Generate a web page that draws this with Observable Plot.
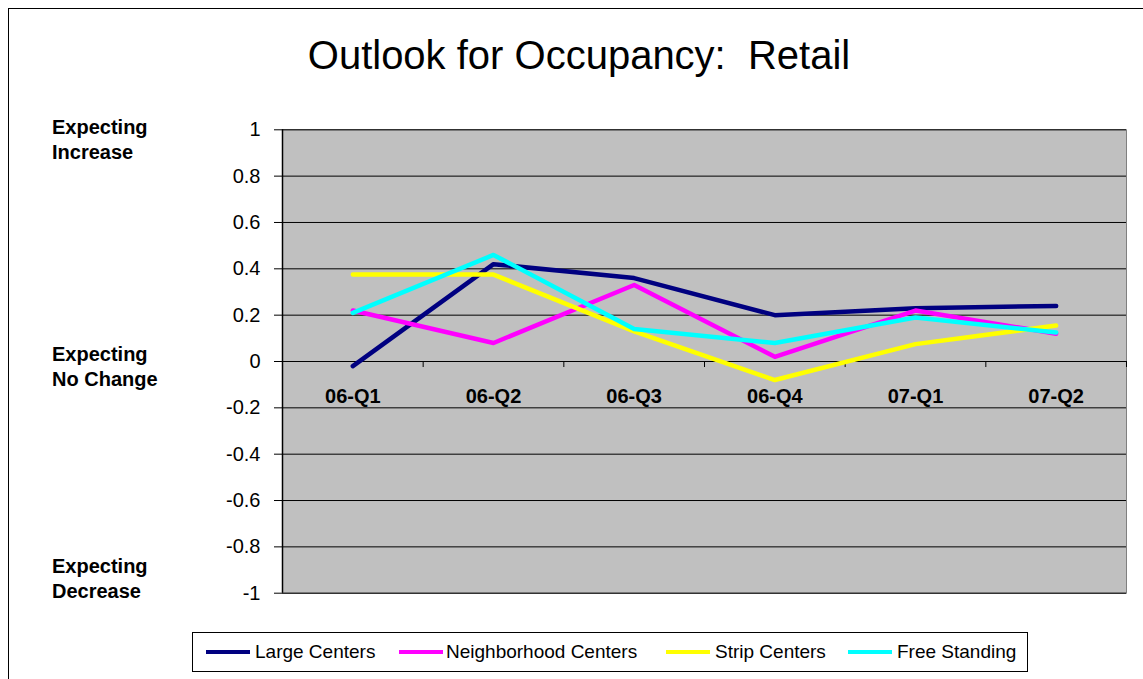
<!DOCTYPE html>
<html><head><meta charset="utf-8">
<script src="https://cdn.jsdelivr.net/npm/d3@7"></script>
<script src="https://cdn.jsdelivr.net/npm/@observablehq/plot@0.6"></script>
<style>
body{margin:0;overflow:hidden;font-family:Arial,"Liberation Sans",sans-serif;background:#fff}
#wrap{position:relative;width:1143px;height:679px;overflow:hidden}
#border{position:absolute;left:8px;top:8px;width:1200px;height:700px;border:1px solid #000}
#title{position:absolute;left:0;width:1158px;top:32px;text-align:center;font-size:40px;white-space:pre;line-height:46px}
.ann{position:absolute;left:52px;font-weight:bold;font-size:20px;line-height:25px}
#chart{position:absolute;left:0;top:100px}
#legend{position:absolute;left:192px;top:632px;width:834px;height:38px;border:1px solid #000;background:#fff}
.sw{position:absolute;top:17px;height:4px;width:44px}
.lt{position:absolute;top:8px;font-size:19px;line-height:22px;white-space:nowrap}
</style></head>
<body>
<div id="wrap">
  <div id="border"></div>
  <div id="title">Outlook for Occupancy:  Retail</div>
  <div class="ann" style="top:115px">Expecting<br>Increase</div>
  <div class="ann" style="top:342px">Expecting<br>No Change</div>
  <div class="ann" style="top:554px">Expecting<br>Decrease</div>
  <div id="chart"></div>
  <div id="legend"></div>
</div>
<script>
const categories = ["06-Q1","06-Q2","06-Q3","06-Q4","07-Q1","07-Q2"];
const seriesNames = ["Large Centers","Neighborhood Centers","Strip Centers","Free Standing"];
const seriesColors = ["#000080","#ff00ff","#ffff00","#00ffff"];
const largeCenters = [-0.02, 0.42, 0.36, 0.20, 0.23, 0.24];
const neighborhoodCenters = [0.22, 0.08, 0.33, 0.02, 0.22, 0.12];
const stripCenters = [0.375, 0.375, 0.13, -0.08, 0.075, 0.155];
const freeStanding = [0.21, 0.46, 0.14, 0.08, 0.19, 0.125];
const yTicks = [-1, -0.8, -0.6, -0.4, -0.2, 0, 0.2, 0.4, 0.6, 0.8, 1];

const allSeries = [largeCenters, neighborhoodCenters, stripCenters, freeStanding];
const rows = [];
allSeries.forEach((vals, s) => vals.forEach((v, i) => rows.push({i, v, s: seriesNames[s]})));
const boundaries = d3.range(categories.length + 1).map(k => k - 0.5);
const catRows = categories.map((c, i) => ({i, c}));

const chart = Plot.plot({
  width: 1143, height: 520,
  marginLeft: 282, marginRight: 17, marginTop: 29.3, marginBottom: 27.3,
  style: {fontFamily: "Arial, 'Liberation Sans', sans-serif", color: "#000", background: "transparent"},
  x: {type: "linear", domain: [-0.5, categories.length - 0.5], axis: null},
  y: {domain: [-1, 1]},
  color: {domain: seriesNames, range: seriesColors},
  marks: [
    Plot.frame({fill: "#c0c0c0", stroke: "#808080"}),
    Plot.ruleY(yTicks, {stroke: "#000", strokeWidth: 1}),
    Plot.ruleX([-0.5], {stroke: "#000", strokeWidth: 1.5}),
    Plot.axisY({ticks: yTicks, tickSize: 8, tickPadding: 14, fontSize: 20, tickFormat: d => String(d), label: null, stroke: "#000"}),
    Plot.ruleX(boundaries, {x: d => d, y1: 0, y2: -0.026, stroke: "#000"}),
    Plot.text(catRows, {x: "i", y: 0, text: "c", dy: 35, fontWeight: "bold", fontSize: 20, fill: "#000"}),
    Plot.line(rows, {x: "i", y: "v", z: "s", stroke: "s", strokeWidth: 4.5, strokeLinecap: "round", strokeLinejoin: "round"})
  ]
});
document.getElementById("chart").appendChild(chart);

const legend = document.getElementById("legend");
const swLeft = [13, 206, 473, 655];
const txtLeft = [62, 253, 522, 704];
seriesNames.forEach((n, k) => {
  const sw = document.createElement("div");
  sw.className = "sw"; sw.style.left = swLeft[k] + "px"; sw.style.background = seriesColors[k];
  legend.appendChild(sw);
  const t = document.createElement("div");
  t.className = "lt"; t.style.left = txtLeft[k] + "px"; t.textContent = n;
  legend.appendChild(t);
});
</script>
</body></html>
